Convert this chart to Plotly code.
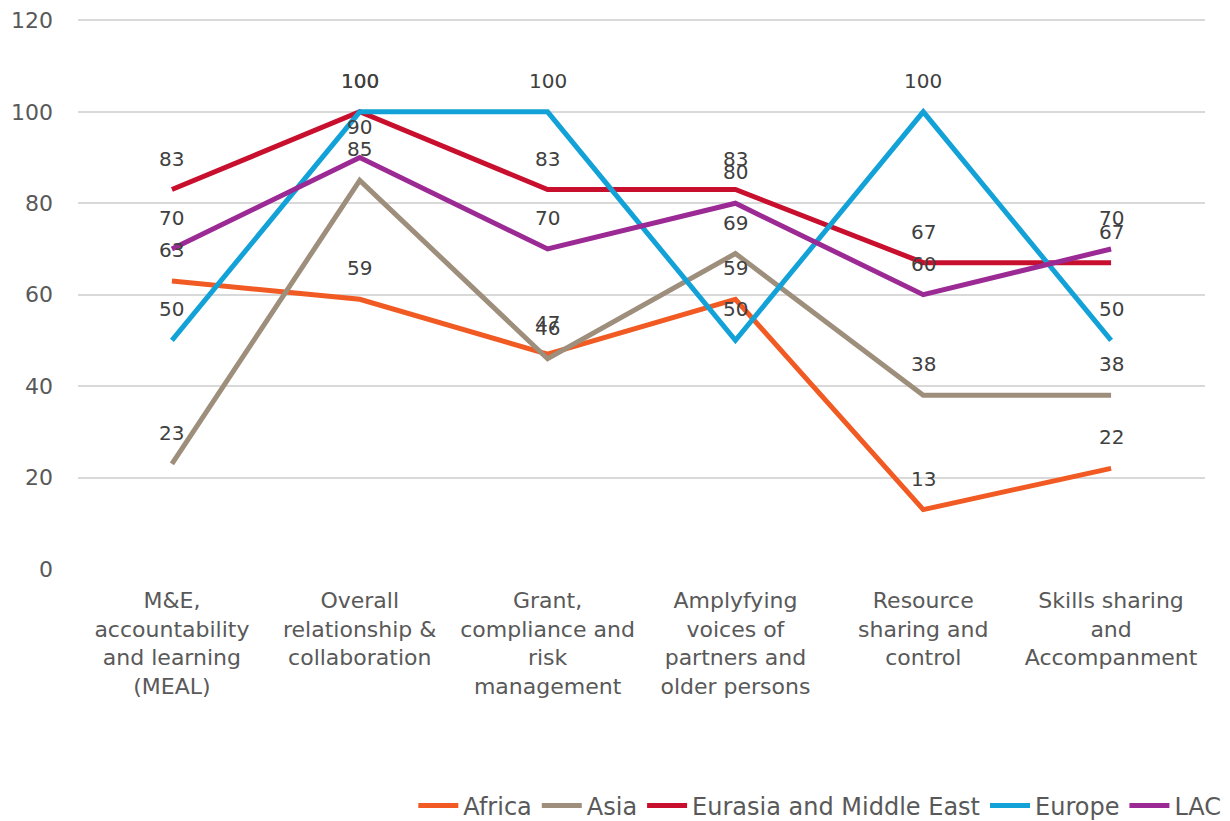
import plotly.graph_objects as go

categories = [
    "M&E,<br>accountability<br>and learning<br>(MEAL)",
    "Overall<br>relationship &<br>collaboration",
    "Grant,<br>compliance and<br>risk<br>management",
    "Amplyfying<br>voices of<br>partners and<br>older persons",
    "Resource<br>sharing and<br>control",
    "Skills sharing<br>and<br>Accompanment",
]

africa = [63, 59, 47, 59, 13, 22]
asia = [23, 85, 46, 69, 38, 38]
eurasia = [83, 100, 83, 83, 67, 67]
europe = [50, 100, 100, 50, 100, 50]
lac = [70, 90, 70, 80, 60, 70]

y_ticks = [0, 20, 40, 60, 80, 100, 120]

series = [
    ("Africa", africa, "#F15A22"),
    ("Asia", asia, "#9E8E7C"),
    ("Eurasia and Middle East", eurasia, "#C8102E"),
    ("Europe", europe, "#13A2D8"),
    ("LAC", lac, "#9C2A95"),
]

font = "DejaVu Sans"
xs = list(range(len(categories)))

fig = go.Figure()
annotations = []
for name, vals, color in series:
    fig.add_trace(go.Scatter(
        x=xs, y=vals, name=name, mode="lines",
        line=dict(color=color, width=5),
    ))
    for x, v in zip(xs, vals):
        annotations.append(dict(
            x=x, y=v, text=str(v), showarrow=False, yshift=31,
            font=dict(family=font, size=20, color="#404040"),
        ))

fig.update_layout(
    width=1222, height=813,
    margin=dict(l=70, r=25, t=11, b=252, autoexpand=False),
    plot_bgcolor="white", paper_bgcolor="white",
    font=dict(family=font, color="#595959"),
    annotations=annotations,
    showlegend=True,
    legend=dict(
        orientation="h", xref="container", yref="container",
        x=0.997, xanchor="right", y=0.0185, yanchor="middle",
        font=dict(family=font, size=24, color="#595959"),
        itemwidth=40, tracegroupgap=0,
    ),
    xaxis=dict(
        range=[-0.5, 5.5], tickmode="array", tickvals=xs, ticktext=categories,
        showgrid=False, zeroline=False, showline=False,
        tickfont=dict(family=font, size=22, color="#595959"),
        ticks="", ticklabelstandoff=16,
    ),
    yaxis=dict(
        range=[0, 120.3], tickmode="array", tickvals=y_ticks,
        showgrid=True, gridcolor="#D9D9D9", gridwidth=1.5,
        zeroline=False, showline=False,
        tickfont=dict(family=font, size=22, color="#595959"),
        ticks="", ticklabelstandoff=24, ticklabeloverflow="allow",
    ),
)

fig.write_html("out.html")
